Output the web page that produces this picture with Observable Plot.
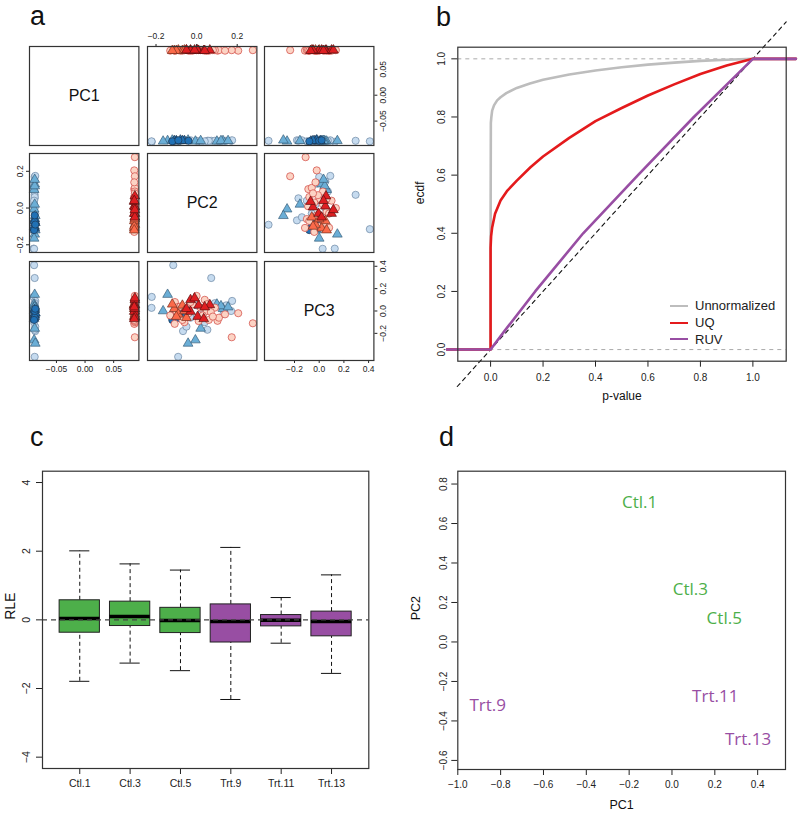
<!DOCTYPE html>
<html><head><meta charset="utf-8">
<script src="https://cdn.jsdelivr.net/npm/d3@7"></script>
<script src="https://cdn.jsdelivr.net/npm/@observablehq/plot@0.6"></script>
<style>
body{margin:0;background:#fff;}
#root{position:relative;width:800px;height:813px;overflow:hidden;font-family:"Liberation Sans",Arial,sans-serif;color:#111;}
.lt{position:absolute;font-size:27px;line-height:1;font-family:"Liberation Sans",Arial,sans-serif;}
.leg{position:absolute;font-size:13px;font-family:"Liberation Sans",Arial,sans-serif;color:#222;}
.leg div{height:16.7px;display:flex;align-items:center;}
.leg span.ln{display:inline-block;width:18px;height:0;border-top:2.6px solid;margin-right:7px;}
</style></head><body><div id="root"></div>
<script>
// ---------------- Panel a data: [PC1, PC2, PC3] ----------------
const lightBlueCircles = [
  [-0.089,-0.115,0.41],[-0.088,0.072,0.295],[-0.090,-0.221,0.126],[-0.089,-0.222,0.028],
  [-0.088,0.170,0.000],[-0.087,0.175,0.090],[-0.088,0.145,0.050],[-0.089,0.133,-0.025],
  [-0.088,-0.091,-0.41],[-0.087,-0.067,-0.18],[-0.088,0.053,-0.168],[-0.089,0.110,0.040],
  [-0.088,0.090,0.070],[-0.087,-0.050,-0.140],[-0.088,0.060,0.020],[-0.089,0.020,-0.030],
  [-0.088,-0.080,-0.060],[-0.088,0.000,0.050],[-0.087,-0.030,-0.060],[-0.089,0.040,-0.100]
];
const mediumBlueTriangles = [
  [-0.088,-0.143,0.147],[-0.089,-0.006,-0.26],[-0.087,-0.042,-0.29],[-0.088,0.020,-0.156],
  [-0.088,0.130,0.020],[-0.089,0.100,0.060],[-0.088,0.120,0.045],[-0.087,-0.120,-0.020],
  [-0.088,-0.100,0.030],[-0.089,-0.165,0.000],[-0.088,0.155,0.035]
];
const darkBlueTriangles = [
  [-0.088,-0.110,-0.035],[-0.089,-0.100,-0.067],[-0.087,-0.080,-0.020],[-0.088,-0.060,-0.050],
  [-0.088,-0.070,0.010]
];
const darkBlueCircles = [
  [-0.089,-0.120,-0.080],[-0.088,-0.040,0.000],[-0.087,-0.090,0.020]
];
const lightRedCircles = [
  [0.087,0.277,-0.110],[0.086,0.205,-0.020],[0.087,0.173,-0.235],[0.086,0.103,-0.088],
  [0.087,0.110,-0.060],[0.086,0.140,-0.030],[0.087,0.000,0.135],[0.086,-0.107,0.080],
  [0.087,-0.091,0.036],[0.086,-0.108,-0.115],[0.087,-0.060,-0.100],[0.086,0.050,0.000],
  [0.087,0.030,-0.040],[0.086,-0.020,0.060],[0.087,0.090,0.030],[0.086,0.060,-0.080],
  [0.087,-0.100,0.000],[0.086,-0.130,-0.040],[0.086,0.040,0.100],
  [0.087,0.020,0.030],[0.086,-0.040,-0.020],[0.087,0.070,-0.010],[0.086,-0.080,0.040],
  [0.087,0.010,-0.090],[0.086,-0.030,0.080],[0.087,0.050,0.060],[0.086,-0.070,-0.080],
  [0.087,0.080,-0.050]
];
const orangeTriangles = [
  [0.086,-0.110,0.020],[0.087,-0.090,-0.030],[0.086,-0.070,0.050],[0.087,-0.050,-0.060],
  [0.086,-0.100,-0.050],[0.087,-0.060,0.000],[0.086,-0.120,0.060]
];
const redTriangles = [
  [0.087,0.065,0.055],[0.086,0.010,0.050],[0.087,-0.030,0.100],[0.086,-0.030,-0.005],
  [0.087,0.005,-0.050],[0.086,0.035,-0.070],[0.087,-0.050,0.020],[0.086,0.040,0.035],
  [0.087,-0.010,0.115]
];
const pcNames = ["PC1","PC2","PC3"];

// ---------------- Panel b data ----------------
const pUnnorm =  [-0.166,0,0,0.001,0.003,0.006,0.013,0.025,0.038,0.06,0.1,0.15,0.2,0.3,0.4,0.5,0.6,0.7,0.8,0.9,1.0,1.164];
const ecdfUnnorm=[0,0,0.40,0.78,0.80,0.822,0.84,0.857,0.868,0.882,0.90,0.915,0.928,0.946,0.96,0.971,0.98,0.987,0.993,0.997,1.0,1.0];
const pUQ =      [-0.166,0,0,0.002,0.006,0.017,0.038,0.064,0.1,0.152,0.2,0.3,0.4,0.5,0.6,0.7,0.8,0.9,1.0,1.164];
const ecdfUQ =   [0,0,0.35,0.39,0.42,0.467,0.513,0.547,0.581,0.627,0.664,0.728,0.786,0.831,0.874,0.912,0.948,0.977,1.0,1.0];
const pRUV =     [-0.166,0,0.05,0.17,0.353,0.562,0.775,1.0,1.164];
const ecdfRUV =  [0,0,0.06,0.2,0.4,0.6,0.8,1.0,1.0];
const legendNames = ["Unnormalized","UQ","RUV"];
const legendColors = ["#bdbdbd","#e41a1c","#984ea3"];
const bTicks = [0,0.2,0.4,0.6,0.8,1.0];

// ---------------- Panel c data ----------------
const samples = ["Ctl.1","Ctl.3","Ctl.5","Trt.9","Trt.11","Trt.13"];
const sampleGroup = ["Ctl","Ctl","Ctl","Trt","Trt","Trt"];
const whiskerLow = [-1.79,-1.26,-1.48,-2.32,-0.68,-1.56];
const q1 =         [-0.375,-0.18,-0.385,-0.66,-0.19,-0.48];
const median =     [0.04,0.10,-0.02,-0.05,-0.01,-0.05];
const q3 =         [0.57,0.53,0.35,0.45,0.14,0.24];
const whiskerHigh =[2.01,1.63,1.45,2.11,0.65,1.31];
const rleTicks = [-4,-2,0,2,4];

// ---------------- Panel d data ----------------
const dPC1 = [-0.151,0.086,0.244,-0.86,0.202,0.355];
const dPC2 = [0.705,0.267,0.121,-0.322,-0.274,-0.494];
const dXTicks = [-1.0,-0.8,-0.6,-0.4,-0.2,0.0,0.2,0.4];
const dYTicks = [-0.6,-0.4,-0.2,0.0,0.2,0.4,0.6,0.8];

const groupColor = {Ctl:"#4daf4a", Trt:"#984ea3"};

// ---------------- helpers ----------------
const root = document.getElementById("root");
function place(el, left, top){ el.style.position="absolute"; el.style.left=left+"px"; el.style.top=top+"px"; root.appendChild(el); }
function letter(t, left, top){ const d=document.createElement("div"); d.className="lt"; d.textContent=t; d.style.left=left+"px"; d.style.top=top+"px"; root.appendChild(d); }
const baseStyle = {background:"transparent", overflow:"visible", fontFamily:"'Liberation Sans', Arial, sans-serif", fontSize:"10px", color:"#222"};
const f1 = d3.format(".1f"), f2 = d3.format(".2f"), fd = d3.format("d");
const blank = () => "";
// rotated y tick labels (R style, parallel to axis)
function yLabels(ticks, fmt, side, off, size){
  return Plot.text(ticks, {y:d=>d, text:d=>fmt(d), frameAnchor: side, dx: side==="left" ? -off : off,
    rotate:-90, lineAnchor: side==="left" ? "bottom" : "top", textAnchor:"middle", fontSize:size, fill:"#222"});
}

// ---------------- Panel a ----------------
const groups = [
  {data: lightBlueCircles, symbol:"circle", fill:"#c6dbef", stroke:"#6c87a3"},
  {data: mediumBlueTriangles, symbol:"triangle", fill:"#6baed6", stroke:"#3a5f7a"},
  {data: darkBlueTriangles, symbol:"triangle", fill:"#2171b5", stroke:"#1c3550"},
  {data: darkBlueCircles, symbol:"circle", fill:"#2171b5", stroke:"#1c3550"},
  {data: lightRedCircles, symbol:"circle", fill:"#fcd3c4", stroke:"#d0453f"},
  {data: orangeTriangles, symbol:"triangle", fill:"#fb6a4a", stroke:"#7a3020"},
  {data: redTriangles, symbol:"triangle", fill:"#de1f22", stroke:"#5a1010"}
];
const allPts = groups.flatMap(g => g.data);
const doms = [0,1,2].map(k => { const [a,b] = d3.extent(allPts, d => d[k]); const e=(b-a)*0.04; return [a-e,b+e]; });
const CW = 109.4, CH = 99;
const colLeft = [29.4,146.8,264.2], rowTop = [46,153.3,260.6];
const axesSpec = {
  "01": {x:{anchor:"top", ticks:[-0.2,0,0.2], fmt:f1}},
  "02": {y:{anchor:"right", ticks:[-0.05,0,0.05], fmt:f2}},
  "10": {y:{anchor:"left", ticks:[-0.2,0,0.2], fmt:f1}},
  "20": {x:{anchor:"bottom", ticks:[-0.05,0,0.05], fmt:f2}},
  "22": {x:{anchor:"bottom", ticks:[-0.2,0,0.2,0.4], fmt:f1}, y:{anchor:"right", ticks:[-0.2,0,0.2,0.4], fmt:f1}}
};
for (let r=0;r<3;r++) for (let c=0;c<3;c++){
  const M = 30, sp = axesSpec[""+r+c] || {};
  const marks = [];
  if (r===c) {
    marks.push(Plot.text([pcNames[r]], {frameAnchor:"middle", text:d=>d, fontSize:16, fill:"#111"}));
  } else {
    for (const g of groups) marks.push(Plot.dot(g.data, {x:d=>d[c], y:d=>d[r], r:3.6, symbol:g.symbol, fill:g.fill, stroke:g.stroke, strokeWidth:0.7}));
  }
  marks.push(Plot.frame({stroke:"#333", strokeWidth:1.2}));
  if (sp.y) marks.push(yLabels(sp.y.ticks, sp.y.fmt, sp.y.anchor, 6.5, 8.5));
  const svg = Plot.plot({
    width: CW+2*M, height: CH+2*M, marginTop:M, marginBottom:M, marginLeft:M, marginRight:M,
    x: {domain:doms[c], axis: sp.x ? sp.x.anchor : null, ticks: sp.x ? sp.x.ticks : undefined, tickFormat: sp.x ? sp.x.fmt : undefined, tickSize:3, tickPadding: sp.x && sp.x.anchor==="top" ? 4 : 2, label:null},
    y: {domain:doms[r], axis: sp.y ? sp.y.anchor : null, ticks: sp.y ? sp.y.ticks : undefined, tickFormat: blank, tickSize:3, tickPadding:2, label:null},
    style: {...baseStyle, fontSize:"8.5px"},
    marks
  });
  place(svg, colLeft[c]-M, rowTop[r]-M);
}
letter("a", 30, 3);

// ---------------- Panel b ----------------
{
  const toRows = (ps, es) => ps.map((p,i)=>({p, e:es[i]}));
  const svg = Plot.plot({
    width:400, height:410, marginLeft:57.3, marginRight:14.3, marginTop:46.7, marginBottom:49.3,
    x:{domain:[-0.125,1.127], ticks:bTicks, tickFormat:f1, tickSize:6, tickPadding:7, label:null},
    y:{domain:[-0.04,1.04], ticks:bTicks, tickFormat:blank, tickSize:6, tickPadding:4, label:null},
    style: baseStyle,
    marks:[
      Plot.ruleY([0,1], {stroke:"#aaa", strokeDasharray:"4,4", strokeWidth:1}),
      Plot.line([[-0.127,-0.127],[1.127,1.127]], {x:d=>d[0], y:d=>d[1], stroke:"#111", strokeDasharray:"4,4", strokeWidth:1.1}),
      Plot.line(toRows(pUnnorm, ecdfUnnorm), {x:"p", y:"e", stroke:legendColors[0], strokeWidth:2.6}),
      Plot.line(toRows(pUQ, ecdfUQ), {x:"p", y:"e", stroke:legendColors[1], strokeWidth:2.6}),
      Plot.line(toRows(pRUV, ecdfRUV), {x:"p", y:"e", stroke:legendColors[2], strokeWidth:2.6}),
      Plot.frame({stroke:"#333", strokeWidth:1.2}),
      yLabels(bTicks, f1, "left", 13, 10),
      Plot.text(["p-value"], {frameAnchor:"bottom", text:d=>d, dy:39, fontSize:12, fill:"#111"}),
      Plot.text(["ecdf"], {frameAnchor:"left", text:d=>d, dx:-38, rotate:-90, fontSize:12, fill:"#111"})
    ]
  });
  place(svg, 400, 0);
  const leg = document.createElement("div"); leg.className="leg"; leg.style.left="670px"; leg.style.top="297.5px";
  legendNames.forEach((n,i)=>{ const row=document.createElement("div"); const ln=document.createElement("span"); ln.className="ln"; ln.style.borderTopColor=legendColors[i]; row.appendChild(ln); row.appendChild(document.createTextNode(n)); leg.appendChild(row); });
  root.appendChild(leg);
  letter("b", 436, 4);
}

// ---------------- Panel c ----------------
{
  const rows = samples.map((s,i)=>({i:i+1, s, g:sampleGroup[i], lo:whiskerLow[i], q1:q1[i], med:median[i], q3:q3[i], hi:whiskerHigh[i]}));
  const svg = Plot.plot({
    width:400, height:408, marginLeft:42, marginRight:31.7, marginTop:65.7, marginBottom:45,
    x:{domain:[0.26,6.74], ticks:[1,2,3,4,5,6], tickFormat:i=>samples[i-1], tickSize:6, tickPadding:5, label:null},
    y:{domain:[-4.33,4.33], ticks:rleTicks, tickFormat:blank, tickSize:6, tickPadding:4, label:null},
    style: {...baseStyle, fontSize:"10.5px"},
    marks:[
      Plot.ruleX(rows, {x:"i", y1:"q3", y2:"hi", stroke:"#111", strokeDasharray:"4,3", strokeWidth:1}),
      Plot.ruleX(rows, {x:"i", y1:"lo", y2:"q1", stroke:"#111", strokeDasharray:"4,3", strokeWidth:1}),
      Plot.ruleY(rows, {y:"hi", x1:d=>d.i-0.2, x2:d=>d.i+0.2, stroke:"#111", strokeWidth:1}),
      Plot.ruleY(rows, {y:"lo", x1:d=>d.i-0.2, x2:d=>d.i+0.2, stroke:"#111", strokeWidth:1}),
      Plot.rect(rows, {x1:d=>d.i-0.4, x2:d=>d.i+0.4, y1:"q1", y2:"q3", fill:d=>groupColor[d.g], stroke:"#222", strokeWidth:1}),
      Plot.ruleY(rows, {y:"med", x1:d=>d.i-0.4, x2:d=>d.i+0.4, stroke:"#000", strokeWidth:3.5}),
      Plot.ruleY([0], {stroke:"#444", strokeDasharray:"5,4", strokeWidth:1.2}),
      Plot.frame({stroke:"#333", strokeWidth:1.2}),
      yLabels(rleTicks, fd, "left", 13, 10.5),
      Plot.text(["RLE"], {frameAnchor:"left", text:d=>d, dx:-32, rotate:-90, fontSize:14, fill:"#111"})
    ]
  });
  place(svg, 0, 405);
  letter("c", 30, 424);
}

// ---------------- Panel d ----------------
{
  const rows = samples.map((s,i)=>({s, g:sampleGroup[i], x:dPC1[i], y:dPC2[i]}));
  const svg = Plot.plot({
    width:400, height:408, marginLeft:57.3, marginRight:15, marginTop:65.7, marginBottom:44,
    x:{domain:[-1.0,0.53], ticks:dXTicks, tickFormat:f1, tickSize:6, tickPadding:5, label:null},
    y:{domain:[-0.646,0.865], ticks:dYTicks, tickFormat:blank, tickSize:6, tickPadding:4, label:null},
    style: baseStyle,
    marks:[
      Plot.text(rows, {x:"x", y:"y", text:"s", fill:d=>groupColor[d.g], fontSize:17, fontFamily:"'Open Sans', sans-serif"}),
      Plot.frame({stroke:"#333", strokeWidth:1.2}),
      yLabels(dYTicks, f1, "left", 11, 10),
      Plot.text(["PC1"], {frameAnchor:"bottom", text:d=>d, dy:39, fontSize:12.5, fill:"#111"}),
      Plot.text(["PC2"], {frameAnchor:"left", text:d=>d, dx:-42, rotate:-90, fontSize:12.5, fill:"#111"})
    ]
  });
  place(svg, 400, 405);
  letter("d", 439, 424);
}
</script></body></html>
